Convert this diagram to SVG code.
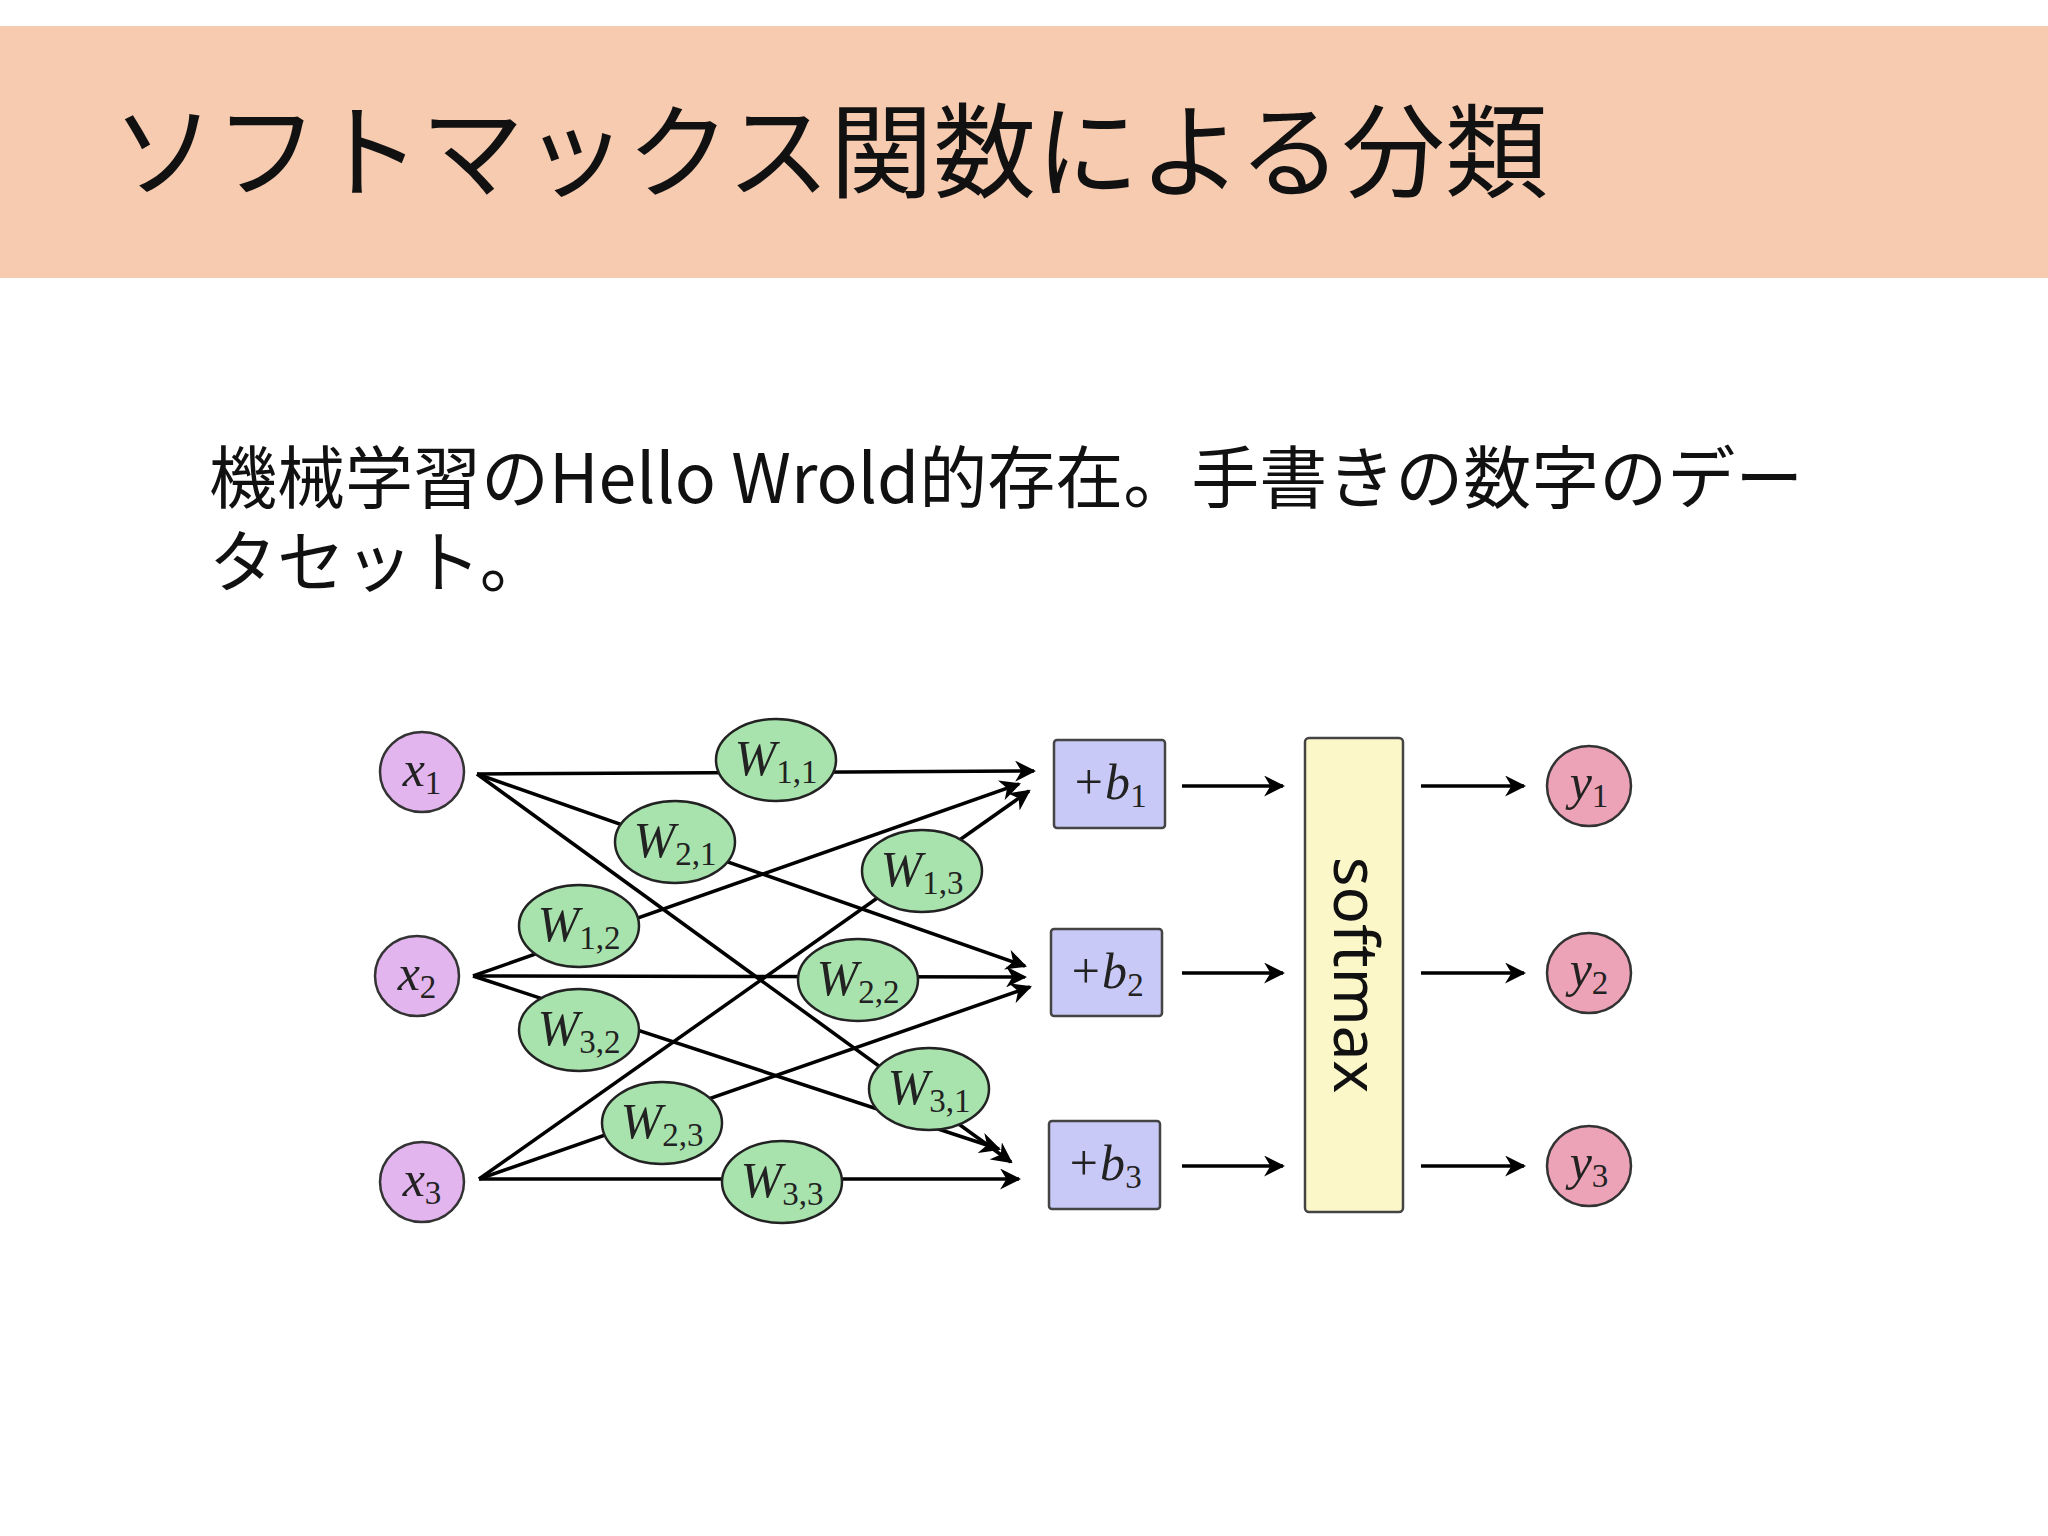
<svg xmlns="http://www.w3.org/2000/svg" width="2048" height="1536" viewBox="0 0 2048 1536">
<style>
.hd{font-family:"Noto Sans CJK JP","Noto Sans",sans-serif;fill:#111}
.m{font-family:"Liberation Serif",serif;font-style:italic;font-size:50px;fill:#222;text-anchor:middle}
.s{font-size:33px;font-style:normal}
.in ellipse{fill:#e2b5ee;stroke:#333;stroke-width:2.5}
.w ellipse{fill:#a8e3ae;stroke:#222;stroke-width:2.5}
.b rect{fill:#c9c9f7;stroke:#444;stroke-width:2.5}
.y ellipse{fill:#eca3b8;stroke:#333;stroke-width:2.5}
.e line{stroke:#000;stroke-width:3.5;marker-end:url(#ah)}
</style>
<defs><marker id="ah" viewBox="0 0 10 10" refX="9" refY="5" markerWidth="6" markerHeight="6" orient="auto" markerUnits="strokeWidth"><path d="M0,0 L10,5 L0,10 L3,5 z" fill="#000"/></marker></defs>
<rect width="2048" height="1536" fill="#fff"/>
<rect x="0" y="26" width="2048" height="252" fill="#f6cbb0"/>
<text class="hd" x="112" y="190" font-size="103">ソフトマックス関数による分類</text>
<text class="hd" x="209" y="503" font-size="68">機械学習のHello Wrold的存在。手書きの数字のデー</text>
<text class="hd" x="209" y="587" font-size="68">タセット。</text>
<g id="edges" class="e">
<line x1="477" y1="774" x2="1034" y2="771"/>
<line x1="477" y1="774" x2="1025" y2="966"/>
<line x1="477" y1="774" x2="1011" y2="1162"/>
<line x1="473" y1="976" x2="1019" y2="784"/>
<line x1="473" y1="976" x2="1025" y2="977"/>
<line x1="473" y1="976" x2="999" y2="1149"/>
<line x1="479" y1="1179" x2="1029" y2="791"/>
<line x1="479" y1="1179" x2="1030" y2="987"/>
<line x1="479" y1="1179" x2="1019" y2="1179"/>
<line x1="1182" y1="786" x2="1283" y2="786"/>
<line x1="1182" y1="973" x2="1283" y2="973"/>
<line x1="1182" y1="1166" x2="1283" y2="1166"/>
<line x1="1421" y1="786" x2="1524" y2="786"/>
<line x1="1421" y1="973" x2="1524" y2="973"/>
<line x1="1421" y1="1166" x2="1524" y2="1166"/>
</g>
<g id="x1" class="in"><ellipse cx="422" cy="772" rx="42" ry="40"/><text class="m" x="422" y="786">x<tspan class="s" dy="8">1</tspan></text></g>
<g id="x2" class="in"><ellipse cx="417" cy="976" rx="42" ry="40"/><text class="m" x="417" y="990">x<tspan class="s" dy="8">2</tspan></text></g>
<g id="x3" class="in"><ellipse cx="422" cy="1182" rx="42" ry="40"/><text class="m" x="422" y="1196">x<tspan class="s" dy="8">3</tspan></text></g>
<g id="W11" class="w"><ellipse cx="776" cy="760" rx="60" ry="41"/><text class="m" x="776" y="775">W<tspan class="s" dy="8">1,1</tspan></text></g>
<g id="W21" class="w"><ellipse cx="675" cy="842" rx="60" ry="41"/><text class="m" x="675" y="857">W<tspan class="s" dy="8">2,1</tspan></text></g>
<g id="W12" class="w"><ellipse cx="579" cy="926" rx="60" ry="41"/><text class="m" x="579" y="941">W<tspan class="s" dy="8">1,2</tspan></text></g>
<g id="W13" class="w"><ellipse cx="922" cy="871" rx="60" ry="41"/><text class="m" x="922" y="886">W<tspan class="s" dy="8">1,3</tspan></text></g>
<g id="W22" class="w"><ellipse cx="858" cy="980" rx="60" ry="41"/><text class="m" x="858" y="995">W<tspan class="s" dy="8">2,2</tspan></text></g>
<g id="W32" class="w"><ellipse cx="579" cy="1030" rx="60" ry="41"/><text class="m" x="579" y="1045">W<tspan class="s" dy="8">3,2</tspan></text></g>
<g id="W31" class="w"><ellipse cx="929" cy="1089" rx="60" ry="41"/><text class="m" x="929" y="1104">W<tspan class="s" dy="8">3,1</tspan></text></g>
<g id="W23" class="w"><ellipse cx="662" cy="1123" rx="60" ry="41"/><text class="m" x="662" y="1138">W<tspan class="s" dy="8">2,3</tspan></text></g>
<g id="W33" class="w"><ellipse cx="782" cy="1182" rx="60" ry="41"/><text class="m" x="782" y="1197">W<tspan class="s" dy="8">3,3</tspan></text></g>
<g id="b1" class="b"><rect x="1054" y="740" width="111" height="88" rx="3"/><text class="m" x="1109" y="799">+b<tspan class="s" dy="8">1</tspan></text></g>
<g id="b2" class="b"><rect x="1051" y="929" width="111" height="87" rx="3"/><text class="m" x="1106" y="988">+b<tspan class="s" dy="8">2</tspan></text></g>
<g id="b3" class="b"><rect x="1049" y="1121" width="111" height="88" rx="3"/><text class="m" x="1104" y="1180">+b<tspan class="s" dy="8">3</tspan></text></g>
<g id="softmax"><rect x="1305" y="738" width="98" height="474" rx="4" fill="#fbf7c8" stroke="#444" stroke-width="2.5"/><text transform="translate(1334,975) rotate(90)" text-anchor="middle" font-family="'Noto Sans',sans-serif" font-size="62" fill="#111">softmax</text></g>
<g id="y1" class="y"><ellipse cx="1589" cy="786" rx="42" ry="40"/><text class="m" x="1589" y="799">y<tspan class="s" dy="8">1</tspan></text></g>
<g id="y2" class="y"><ellipse cx="1589" cy="973" rx="42" ry="40"/><text class="m" x="1589" y="986">y<tspan class="s" dy="8">2</tspan></text></g>
<g id="y3" class="y"><ellipse cx="1589" cy="1166" rx="42" ry="40"/><text class="m" x="1589" y="1179">y<tspan class="s" dy="8">3</tspan></text></g>
</svg>
